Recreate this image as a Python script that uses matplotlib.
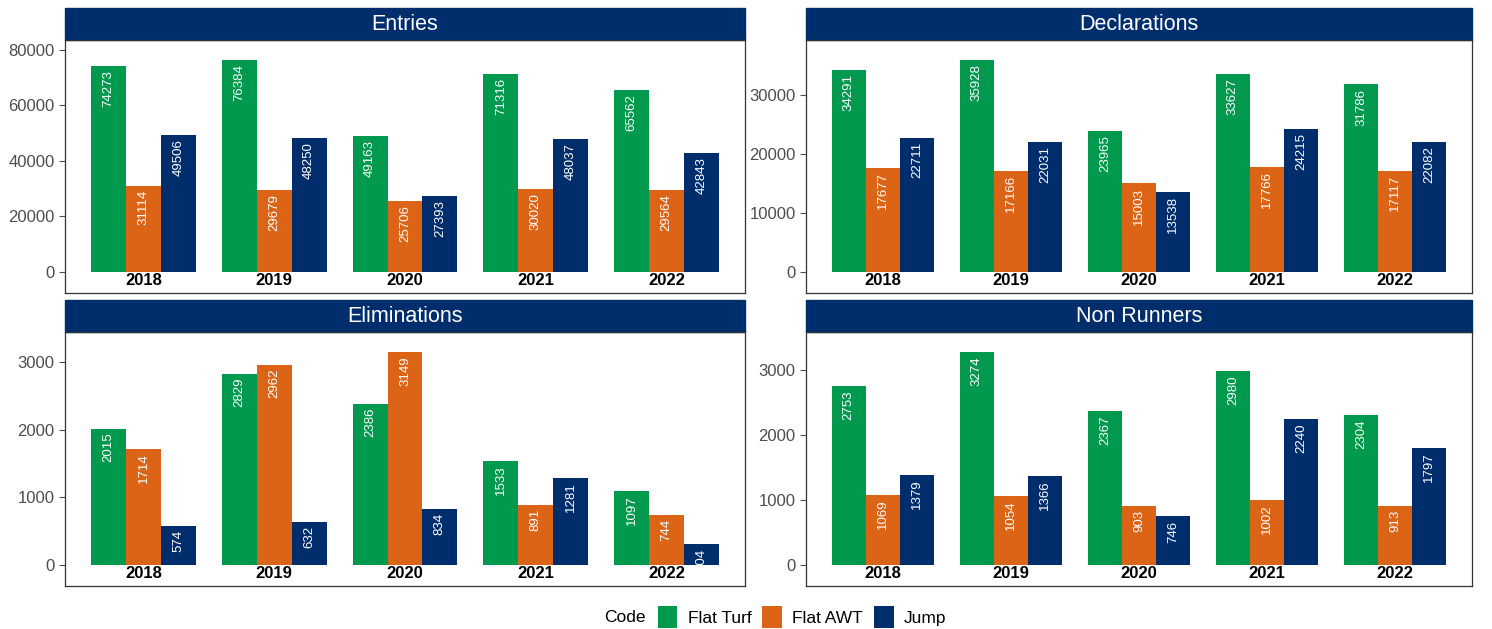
import numpy as np
import matplotlib
matplotlib.use("Agg")
import matplotlib.pyplot as plt
from matplotlib.patches import Rectangle, Patch
from matplotlib.ticker import MultipleLocator

plt.rcParams['font.family'] = ['Liberation Sans', 'DejaVu Sans']

years = ['2018', '2019', '2020', '2021', '2022']
codes = ['Flat Turf', 'Flat AWT', 'Jump']
colors = ['#00994D', '#DC6416', '#002E6D']
navy = '#002E6D'

entries_turf = [74273, 76384, 49163, 71316, 65562]
entries_awt = [31114, 29679, 25706, 30020, 29564]
entries_jump = [49506, 48250, 27393, 48037, 42843]

decl_turf = [34291, 35928, 23965, 33627, 31786]
decl_awt = [17677, 17166, 15003, 17766, 17117]
decl_jump = [22711, 22031, 13538, 24215, 22082]

elim_turf = [2015, 2829, 2386, 1533, 1097]
elim_awt = [1714, 2962, 3149, 891, 744]
elim_jump = [574, 632, 834, 1281, 304]

nr_turf = [2753, 3274, 2367, 2980, 2304]
nr_awt = [1069, 1054, 903, 1002, 913]
nr_jump = [1379, 1366, 746, 2240, 1797]

panels = [
    ('Entries', [entries_turf, entries_awt, entries_jump], 20000),
    ('Declarations', [decl_turf, decl_awt, decl_jump], 10000),
    ('Eliminations', [elim_turf, elim_awt, elim_jump], 1000),
    ('Non Runners', [nr_turf, nr_awt, nr_jump], 1000),
]

W, H = 1492, 629
fig = plt.figure(figsize=(W / 100, H / 100), dpi=100)

# pixel boxes: (left, top, right, bottom) of plot area
boxes = [(65, 40, 745, 293), (806, 40, 1472, 293),
         (65, 332, 745, 586), (806, 332, 1472, 586)]
strip_h = 32

x = np.arange(len(years))
bw = 0.8 / 3

for (title, series, step), (l, t, r, b) in zip(panels, boxes):
    ax = fig.add_axes([l / W, 1 - b / H, (r - l) / W, (b - t) / H])
    top = max(max(s) for s in series)
    pxh = b - t
    for i, (vals, col) in enumerate(zip(series, colors)):
        xs = x + (i - 1) * bw
        ax.bar(xs, vals, width=bw, color=col, linewidth=0)
        for xi, v in zip(xs, vals):
            ax.annotate(str(v), (xi, v), xytext=(0, -3), textcoords='offset points',
                        rotation=90, ha='center', va='top', color='white',
                        fontsize=9.5, clip_on=True)
    for xi, yr in zip(x, years):
        ax.text(xi, -0.042 * top, yr, ha='center', va='center',
                fontsize=12, fontweight='bold', color='black')
    ax.set_xlim(-0.6, len(years) - 0.4)
    ax.set_ylim(-0.099 * top, 1.094 * top)
    ax.yaxis.set_major_locator(MultipleLocator(step))
    ax.set_xticks([])
    ax.tick_params(axis='y', labelsize=12, labelcolor='#4D4D4D', color='#4D4D4D',
                   length=4, width=0.8)
    for sp in ax.spines.values():
        sp.set_color('#333333')
        sp.set_linewidth(0.9)
    # strip
    ax.add_patch(Rectangle((0, 1), 1, strip_h / pxh, transform=ax.transAxes,
                           facecolor=navy, edgecolor=navy, clip_on=False))
    ax.text(0.5, 1 + strip_h / pxh / 2, title, transform=ax.transAxes,
            ha='center', va='center', color='white', fontsize=15.5)

handles = [Patch(facecolor=c, edgecolor='none') for c in colors]
fig.legend(handles, codes, loc='center', bbox_to_anchor=(802 / W, 1 - 617 / H),
           ncol=3, frameon=False, fontsize=12.5, handlelength=1.15, handleheight=1.5,
           handletextpad=0.6, columnspacing=0.6)
fig.text(646 / W, 1 - 617 / H, 'Code', ha='right', va='center', fontsize=12.5)

fig.savefig('out.png', dpi=100)
